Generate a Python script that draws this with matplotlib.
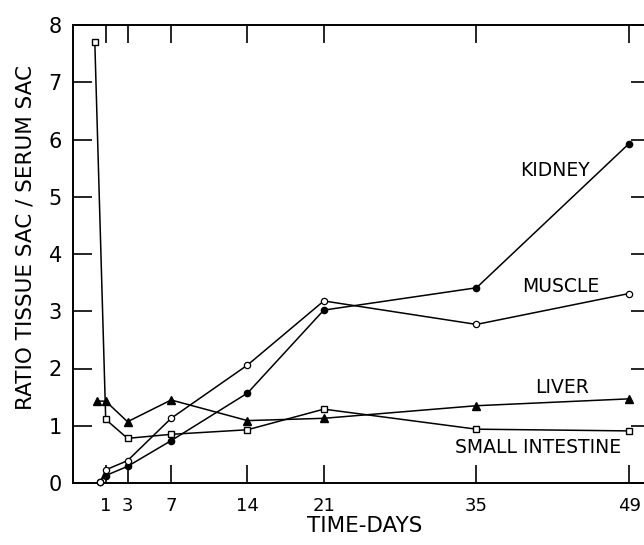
import matplotlib
matplotlib.use("Agg")
import matplotlib.pyplot as plt

# values (ratio tissue SAC / serum SAC vs days)
kidney_days = [0.5, 1, 3, 7, 14, 21, 35, 49]
kidney = [0.02, 0.13, 0.29, 0.74, 1.57, 3.02, 3.41, 5.93]

muscle_days = [0.5, 1, 3, 7, 14, 21, 35, 49]
muscle = [0.02, 0.23, 0.39, 1.13, 2.06, 3.18, 2.77, 3.31]

liver_days = [0.2, 1, 3, 7, 14, 21, 35, 49]
liver = [1.43, 1.43, 1.07, 1.45, 1.09, 1.13, 1.35, 1.47]

intestine_days = [0, 1, 3, 7, 14, 21, 35, 49]
intestine = [7.7, 1.11, 0.78, 0.85, 0.93, 1.29, 0.94, 0.91]

xticks = [1, 3, 7, 14, 21, 35, 49]
xtick_labels = ["1", "3", "7", "14", "21", "35", "49"]
yticks = [0, 1, 2, 3, 4, 5, 6, 7, 8]

plt.rcParams["font.family"] = ["DejaVu Sans"]

fig = plt.figure(figsize=(6.44, 5.45), dpi=100)
ax = fig.add_axes([73 / 644, 62 / 545, 577.4 / 644, 458 / 545])

lw = 1.1
ax.plot(kidney_days, kidney, "-", color="black", lw=lw, marker="o", ms=4.5,
        mfc="black", mec="black", clip_on=False, zorder=3)
ax.plot(muscle_days, muscle, "-", color="black", lw=lw, marker="o", ms=4.5,
        mfc="white", mec="black", mew=0.9, clip_on=False, zorder=3)
ax.plot(liver_days, liver, "-", color="black", lw=lw, marker="^", ms=5.5,
        mfc="black", mec="black", clip_on=False, zorder=3)
ax.plot(intestine_days, intestine, "-", color="black", lw=lw, marker="s", ms=5,
        mfc="white", mec="black", mew=1.0, clip_on=False, zorder=3)

ax.set_xlim(-2.0, 50.95)
ax.set_ylim(0, 8)
ax.set_xticks(xticks)
ax.set_xticklabels(xtick_labels, fontsize=13)
ax.set_yticks(yticks)
ax.set_yticklabels([str(v) for v in yticks], fontsize=15)
ax.tick_params(axis="x", direction="in", length=13, width=1.2, pad=10,
               top=True, bottom=True)
ax.tick_params(axis="y", direction="in", length=14, width=1.2, pad=8,
               left=True, right=True)
for s in ["left", "bottom", "top"]:
    ax.spines[s].set_linewidth(1.4)
ax.spines["right"].set_visible(False)

ax.text(39.0, 5.46, "KIDNEY", fontsize=13.5, va="center", ha="left")
ax.text(39.2, 3.44, "MUSCLE", fontsize=13.5, va="center", ha="left")
ax.text(40.4, 1.67, "LIVER", fontsize=13.5, va="center", ha="left")
ax.text(33.0, 0.62, "SMALL INTESTINE", fontsize=13.5, va="center", ha="left")

fig.text(26 / 644, 1 - 238 / 545, "RATIO TISSUE SAC / SERUM SAC", rotation=90,
         fontsize=15.5, ha="center", va="center")
fig.text(365 / 644, 1 - 526 / 545, "TIME-DAYS", fontsize=15.5,
         ha="center", va="center")

fig.savefig("out.png", dpi=100)
